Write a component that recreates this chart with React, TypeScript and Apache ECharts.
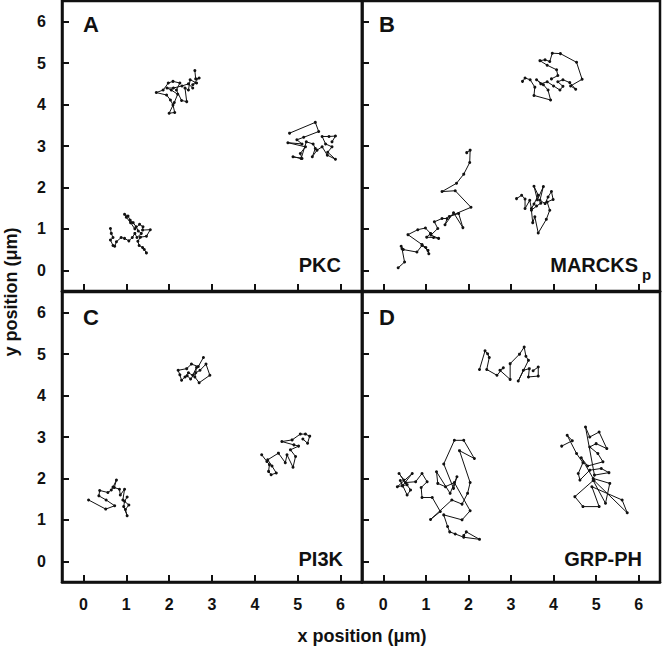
import React, { useEffect, useRef } from "react";
import * as echarts from "echarts";

const axisMin = -0.5;
const axisMax = 6.5;
const axisSplits = 7;
const axisTitleX = "x position (μm)";
const axisTitleY = "y position (μm)";
const panelLetters = ["A", "B", "C", "D"];
const panelNames = ["PKC", "MARCKS", "PI3K", "GRP-PH"];

// Panel A – PKC
const pkcTrack1 = [[0.63,1.01],[0.65,0.89],[0.69,0.79],[0.63,0.73],[0.69,0.60],[0.73,0.58],[0.77,0.69],[0.88,0.79],[0.96,0.77],[1.06,0.71],[1.14,0.79],[1.20,0.89],[1.25,0.79],[1.35,0.89],[1.28,0.95],[1.23,1.05],[1.16,1.15],[1.09,1.21],[1.04,1.31],[0.96,1.35],[1.00,1.28],[1.10,1.15],[1.20,1.00],[1.31,1.11],[1.39,1.05],[1.38,0.97],[1.56,0.98],[1.47,0.82],[1.33,0.80],[1.27,0.70],[1.30,0.60],[1.38,0.55],[1.42,0.50],[1.47,0.42]];
const pkcTrack2 = [[2.60,4.82],[2.62,4.62],[2.70,4.64],[2.55,4.48],[2.64,4.52],[2.49,4.60],[2.45,4.35],[2.37,4.40],[2.41,4.07],[2.29,4.10],[2.17,4.35],[2.25,4.52],[2.09,4.56],[1.98,4.52],[1.86,4.35],[1.70,4.29],[1.94,4.23],[2.03,4.11],[2.09,3.99],[2.13,3.81],[2.00,3.79],[2.12,4.05],[2.20,4.25],[2.05,4.35],[1.95,4.40],[2.10,4.40],[2.30,4.45],[2.45,4.50],[2.55,4.40]];
const pkcTrack3 = [[4.81,3.31],[5.41,3.57],[5.49,3.35],[5.14,3.21],[4.98,3.15],[5.10,3.05],[4.77,3.08],[5.18,2.98],[5.06,2.82],[5.10,2.70],[4.89,2.74],[5.08,2.70],[5.20,3.10],[5.36,3.05],[5.41,2.94],[5.34,2.74],[5.45,2.90],[5.57,2.98],[5.69,2.78],[5.88,2.68],[5.70,2.85],[5.80,2.98],[5.65,3.05],[5.57,3.23],[5.73,3.23],[5.88,3.24],[5.80,3.10]];

// Panel B – MARCKSp
const marcksTrack1 = [[0.35,0.06],[0.50,0.20],[0.44,0.52],[0.42,0.58],[0.47,0.50],[0.79,0.44],[0.91,0.60],[1.05,0.48],[1.07,0.40],[1.00,0.55],[0.91,0.62],[0.58,0.86],[0.81,0.98],[0.99,1.02],[1.11,0.89],[1.02,0.80],[1.18,0.79],[1.30,0.77],[1.12,0.85],[1.28,1.01],[1.20,1.17],[1.38,1.25],[1.50,1.25],[1.45,1.10],[1.65,1.39],[1.87,1.03],[1.77,1.37],[1.55,1.30],[2.06,1.52],[1.69,1.92],[1.38,1.90],[1.72,2.10],[1.89,2.32],[2.03,2.60],[2.04,2.90],[1.96,2.84]];
const marcksTrack2 = [[3.13,1.73],[3.25,1.81],[3.33,1.72],[3.33,1.49],[3.44,1.69],[3.48,1.49],[3.54,1.60],[3.64,1.81],[3.54,2.03],[3.62,1.70],[3.76,2.02],[3.68,1.69],[3.80,1.61],[3.87,1.77],[3.95,1.90],[3.99,1.71],[3.85,1.65],[3.91,1.45],[3.83,1.23],[3.64,0.90],[3.56,1.29],[3.51,1.15],[3.48,1.45],[3.60,1.55],[3.70,1.62]];
const marcksTrack3 = [[3.27,4.56],[3.33,4.64],[3.45,4.60],[3.56,4.42],[3.54,4.22],[3.93,4.11],[3.87,4.35],[3.76,4.48],[3.60,4.60],[3.70,4.50],[3.85,4.55],[4.00,4.45],[4.15,4.35],[4.22,4.44],[4.10,4.55],[4.22,4.60],[4.38,4.53],[4.52,4.37],[4.40,4.45],[4.67,4.61],[4.54,5.02],[4.16,5.23],[3.97,5.24],[3.91,5.04],[3.80,5.08],[3.68,5.06],[3.85,4.95],[4.07,4.84],[4.10,4.70],[3.95,4.62]];

// Panel C – PI3K
const pi3kTrack1 = [[0.12,1.48],[0.52,1.26],[0.73,1.34],[0.53,1.48],[0.36,1.58],[0.38,1.71],[0.57,1.66],[0.65,1.72],[0.69,1.79],[0.77,1.96],[0.72,1.78],[0.84,1.74],[0.86,1.60],[0.96,1.74],[0.92,1.48],[1.06,1.36],[0.98,1.25],[1.02,1.10],[0.94,1.32],[0.96,1.45],[1.02,1.55]];
const pi3kTrack2 = [[2.80,4.92],[2.68,4.70],[2.52,4.76],[2.41,4.65],[2.21,4.61],[2.25,4.50],[2.29,4.37],[2.37,4.45],[2.45,4.55],[2.55,4.49],[2.64,4.68],[2.60,4.45],[2.70,4.31],[2.95,4.49],[2.86,4.76],[2.72,4.61],[2.62,4.55],[2.50,4.40],[2.42,4.48]];
const pi3kTrack3 = [[4.16,2.57],[4.28,2.41],[4.34,2.33],[4.32,2.17],[4.38,2.09],[4.50,2.13],[4.40,2.30],[4.30,2.45],[4.55,2.61],[4.71,2.38],[4.75,2.57],[4.89,2.27],[4.95,2.53],[4.83,2.69],[5.02,2.78],[4.91,2.81],[4.63,2.89],[4.87,2.93],[5.06,3.07],[5.18,3.07],[5.28,3.02],[5.23,2.85],[5.12,2.95]];

// Panel D – GRP-PH
const grpTrack1 = [[0.48,1.96],[0.37,2.12],[0.56,1.85],[0.33,1.80],[0.68,2.12],[0.45,1.82],[0.40,1.95],[0.56,1.60],[0.64,1.72],[0.52,1.90],[0.76,1.92],[0.91,2.12],[1.03,1.92],[0.89,1.78],[0.91,1.54],[1.15,1.54],[1.34,1.20],[1.11,1.01],[1.61,1.48],[1.85,1.38],[1.98,1.64],[2.04,1.90],[1.79,2.67],[2.14,2.48],[1.89,2.92],[1.67,2.92],[1.42,2.35],[1.65,1.76],[1.73,2.04],[1.57,1.64],[1.25,2.16],[1.28,1.88],[1.46,1.80],[1.67,1.90],[2.04,1.22],[1.85,1.00],[1.42,1.12],[1.51,0.84],[1.56,0.71],[1.69,0.66],[1.89,0.58],[2.26,0.53],[1.95,0.71],[1.89,0.62]];
const grpTrack2 = [[2.26,4.63],[2.39,5.08],[2.45,5.01],[2.49,4.92],[2.43,4.63],[2.67,4.49],[2.82,4.67],[2.74,4.61],[2.98,4.39],[2.98,4.77],[3.20,5.00],[3.31,5.17],[3.35,4.95],[3.41,4.85],[3.17,4.35],[3.29,4.61],[3.43,4.65],[3.41,4.45],[3.64,4.47],[3.64,4.69],[3.52,4.60]];
const grpTrack3 = [[4.19,2.78],[4.44,2.91],[4.32,3.04],[4.54,2.60],[4.69,2.38],[4.58,2.12],[4.62,1.96],[4.85,2.20],[5.12,2.24],[5.30,2.14],[4.96,2.08],[4.75,3.24],[4.85,3.00],[5.07,3.12],[5.25,2.72],[5.00,2.84],[4.85,2.76],[5.04,2.60],[5.16,2.40],[4.80,2.30],[4.65,2.50],[4.93,2.00],[5.32,1.88],[5.22,1.40],[4.93,1.95],[4.50,1.56],[4.69,1.32],[5.07,1.32],[4.90,1.80],[5.61,1.48],[5.73,1.17],[4.95,1.95]];

const panelTracks = [
  [pkcTrack1, pkcTrack2, pkcTrack3],
  [marcksTrack1, marcksTrack2, marcksTrack3],
  [pi3kTrack1, pi3kTrack2, pi3kTrack3],
  [grpTrack1, grpTrack2, grpTrack3],
];

const FONT = "'Liberation Sans', Arial, Helvetica, sans-serif";
const INK = "#111111";

function makeAxis(i: number, showLabel: boolean, margin: number) {
  return {
    type: "value",
    gridIndex: i,
    min: axisMin,
    max: axisMax,
    splitNumber: axisSplits,
    splitLine: { show: false },
    axisLine: { show: true, onZero: false, lineStyle: { color: INK, width: 2.5 } },
    axisTick: { show: true, inside: true, length: 7, lineStyle: { color: INK, width: 2 } },
    axisLabel: {
      show: showLabel,
      margin,
      fontSize: 16,
      fontWeight: "bold",
      fontFamily: FONT,
      color: INK,
      showMinLabel: false,
      showMaxLabel: false,
    },
  };
}

export default function App() {
  const ref = useRef<HTMLDivElement>(null);
  useEffect(() => {
    if (!ref.current) return;
    const chart = echarts.init(ref.current, undefined, { renderer: "svg" });
    const grids = [
      { left: 62, top: 1, width: 300, height: 290 },
      { left: 362, top: 1, width: 298, height: 290 },
      { left: 62, top: 292, width: 300, height: 290 },
      { left: 362, top: 292, width: 298, height: 290 },
    ];
    const grid = grids.map((g) => ({
      ...g,
      show: true,
      borderColor: INK,
      borderWidth: 2.5,
    }));
    const xAxis = grids.map((_, i) => makeAxis(i, i >= 2, 14));
    const yAxis = grids.map((_, i) => makeAxis(i, i % 2 === 0, 16));
    const series: any[] = [];
    panelTracks.forEach((tracks, i) => {
      tracks.forEach((track) => {
        series.push({
          type: "line",
          xAxisIndex: i,
          yAxisIndex: i,
          data: track,
          symbol: "circle",
          symbolSize: 3,
          showSymbol: true,
          lineStyle: { color: INK, width: 1 },
          itemStyle: { color: INK },
        });
      });
    });
    const letterPos = [
      [83, 24],
      [379, 24],
      [83, 317],
      [379, 317],
    ];
    const namePos = [
      [341, 265],
      [638, 265],
      [343, 559],
      [642, 559],
    ];
    const graphic: any[] = [];
    letterPos.forEach((p, i) => {
      graphic.push({
        type: "text",
        x: p[0],
        y: p[1],
        style: { text: panelLetters[i], fontFamily: FONT, fontWeight: "bold", fill: INK, fontSize: 22, align: "left", verticalAlign: "middle" },
      });
    });
    namePos.forEach((p, i) => {
      graphic.push({
        type: "text",
        x: p[0],
        y: p[1],
        style: { text: panelNames[i], fontFamily: FONT, fontWeight: "bold", fill: INK, fontSize: 20, align: "right", verticalAlign: "middle" },
      });
    });
    graphic.push({
      type: "text",
      x: 642,
      y: 274,
      style: { text: "p", fontFamily: FONT, fontWeight: "bold", fill: INK, fontSize: 15, align: "left", verticalAlign: "middle" },
    });
    graphic.push({
      type: "text",
      x: 362,
      y: 636,
      style: { text: axisTitleX, fontFamily: FONT, fontWeight: "bold", fill: INK, fontSize: 18, align: "center", verticalAlign: "middle" },
    });
    graphic.push({
      type: "text",
      x: 11,
      y: 292,
      rotation: Math.PI / 2,
      style: { text: axisTitleY, fontFamily: FONT, fontWeight: "bold", fill: INK, fontSize: 18, align: "center", verticalAlign: "middle" },
    });
    chart.setOption({
      animation: false,
      backgroundColor: "#ffffff",
      grid,
      xAxis,
      yAxis,
      series,
      graphic,
    });
    return () => chart.dispose();
  }, []);
  return (
    <div
      ref={ref}
      style={{ position: "fixed", left: 0, top: 0, width: 662, height: 649 }}
    />
  );
}
